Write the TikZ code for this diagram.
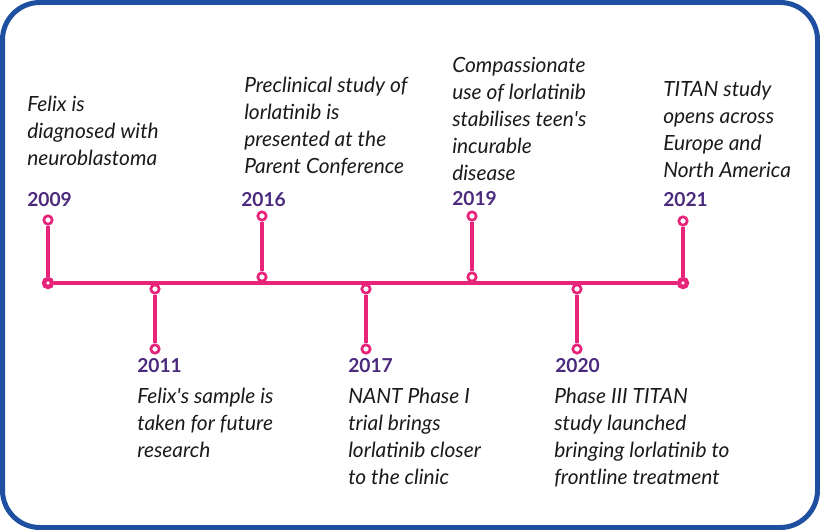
\documentclass[tikz,border=0pt]{standalone}
\usepackage{fontspec}
\setmainfont{Lato}
\definecolor{tlpink}{HTML}{E8237A}
\definecolor{tlpurple}{HTML}{4B2A7D}
\definecolor{tlblue}{HTML}{1F4FA0}
\definecolor{tltext}{HTML}{1A1A1A}
\tikzset{
  ring/.style={circle, draw=tlpink, fill=white, line width=2pt, minimum size=6.3pt, inner sep=0pt},
  enddot/.style={circle, draw=tlpink, fill=white, line width=3.2pt, minimum size=6pt, inner sep=0pt},
  stem/.style={draw=tlpink, line width=2.4pt},
  mainline/.style={draw=tlpink, line width=3pt},
  year/.style={anchor=base west, inner sep=0pt, text=tlpurple, font=\fontsize{14.4}{16}\selectfont\bfseries},
  event/.style={anchor=base west, inner sep=0pt, align=left, text=tltext, font=\fontsize{15.7}{20.25}\selectfont\itshape},
}

\begin{document}
\begin{tikzpicture}[x=0.75pt, y=-0.75pt]
  \useasboundingbox (0, 0) rectangle (820, 530);
  \draw[tlblue, line width=3.75pt, rounded corners=28pt] (2.5, 2.5) rectangle (817.5, 527.5);

  % the line through the years
  \node[enddot] (d09) at (48, 283) {};
  \node[enddot] (d21) at (683, 283) {};
  \draw[mainline] (d09) -- (d21);

  % years above the line
  \node[ring] (a09) at (48, 220) {};
  \draw[stem] (a09) -- (d09);
  \node[ring] (a16) at (262, 216) {};
  \node[ring] (b16) at (262, 277) {};
  \draw[stem] (a16) -- (b16);
  \node[ring] (a19) at (472, 216) {};
  \node[ring] (b19) at (472, 277) {};
  \draw[stem] (a19) -- (b19);
  \node[ring] (a21) at (683, 221) {};
  \draw[stem] (a21) -- (d21);

  % years below the line
  \node[ring] (a11) at (155, 289) {};
  \node[ring] (b11) at (155, 349) {};
  \draw[stem] (a11) -- (b11);
  \node[ring] (a17) at (366, 289) {};
  \node[ring] (b17) at (366, 349) {};
  \draw[stem] (a17) -- (b17);
  \node[ring] (a20) at (577, 289) {};
  \node[ring] (b20) at (577, 349) {};
  \draw[stem] (a20) -- (b20);

  \node[year] (y09) at (27, 207) {2009};
  \node[year] (y16) at (241, 207) {2016};
  \node[year] (y19) at (452, 206) {2019};
  \node[year] (y21) at (663, 207) {2021};
  \node[year] (y11) at (137, 373) {2011};
  \node[year] (y17) at (348, 373) {2017};
  \node[year] (y20) at (555, 373) {2020};

  % texts: base is the last line
  \node[event] (t09) at (27, 166) {Felix is\\diagnosed with\\neuroblastoma};
  \node[event] (t16) at (244, 174) {Preclinical study of\\lorlatinib is\\presented at the\\Parent Conference};
  \node[event] (t19) at (452, 181) {Compassionate\\use of lorlatinib\\stabilises teen\textquotesingle s\\incurable\\disease};
  \node[event] (t21) at (663, 178) {TITAN study\\opens across\\Europe and\\North America};
  \node[event] (t11) at (137, 457) {Felix\textquotesingle s sample is\\taken for future\\research};
  \node[event] (t17) at (348, 484) {NANT Phase I\\trial brings\\lorlatinib closer\\to the clinic};
  \node[event] (t20) at (554, 484) {Phase III TITAN\\study launched\\bringing lorlatinib to\\frontline treatment};
\end{tikzpicture}
\end{document}
